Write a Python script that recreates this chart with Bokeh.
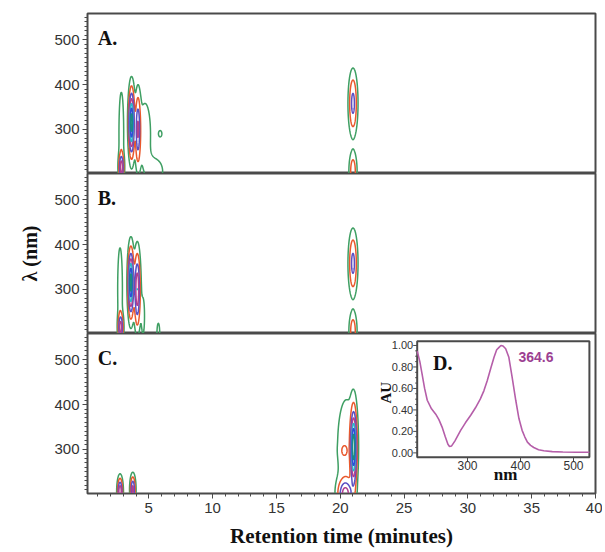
import numpy as np
from bokeh.plotting import figure
from bokeh.models import Range1d, SingleIntervalTicker, Label
from bokeh.layouts import column
from bokeh.embed import file_html
from bokeh.resources import INLINE
from bokeh.core.properties import value

# ---------------- data ----------------
RT_RANGE = (0.2, 40.0)          # retention time (minutes)
WL_RANGE = (201, 559)           # wavelength (nm)
PANEL_NAMES = ["A.", "B.", "C."]

# contour peaks of each panel: retention time, wavelength, widths, height
A_T = [2.85, 2.85, 3.65, 4.15, 4.7, 5.6, 5.9, 21.0, 21.0]
A_L = [290, 215, 315, 300, 290, 205, 290, 358, 205]
A_ST = [0.14, 0.12, 0.13, 0.12, 0.45, 0.5, 0.15, 0.2, 0.18]
A_SL = [70, 18, 42, 45, 70, 25, 8, 40, 26]
A_H = [0.12, 0.5, 1.0, 0.45, 0.08, 0.08, 0.07, 0.35, 0.25]

B_T = [2.75, 2.8, 3.6, 4.1, 4.55, 5.75, 21.0, 21.0]
B_L = [300, 215, 315, 300, 240, 200, 358, 205]
B_ST = [0.14, 0.12, 0.13, 0.14, 0.12, 0.1, 0.2, 0.18]
B_SL = [70, 18, 42, 48, 40, 22, 40, 26]
B_H = [0.12, 0.5, 1.0, 0.6, 0.08, 0.09, 0.35, 0.25]

C_T = [2.75, 3.75, 21.05, 20.5, 20.3, 20.4]
C_L = [205, 210, 305, 305, 297, 200]
C_ST = [0.12, 0.12, 0.14, 0.6, 0.2, 0.35]
C_SL = [18, 18, 48, 90, 10, 20]
C_H = [0.6, 0.5, 1.0, 0.1, 0.1, 0.5]

LEVELS = [0.05, 0.15, 0.3, 0.45, 0.6, 0.75, 0.9]
LEVEL_COLORS = ["#3f9f63", "#e9592d", "#5b4fc4", "#b1418f", "#2fb3cc", "#2e4fd6", "#1d8a84"]

# inset D: UV spectrum
SPEC_NM = [205, 210, 214, 219, 224, 232, 240, 246, 252, 258, 263, 266, 270, 276, 287, 296,
           306, 315, 324, 331, 337, 344, 350, 355, 359, 363, 367, 372, 378, 384, 391, 397,
           403, 408, 413, 419, 425, 434, 444, 460, 480, 505, 530]
SPEC_AU = [0.95, 0.85, 0.74, 0.60, 0.49, 0.41, 0.36, 0.31, 0.24, 0.15, 0.08, 0.06, 0.065, 0.11,
           0.21, 0.28, 0.35, 0.42, 0.50, 0.58, 0.67, 0.79, 0.89, 0.96, 0.98, 1.0, 0.995, 0.97,
           0.89, 0.71, 0.49, 0.32, 0.21, 0.15, 0.10, 0.07, 0.05, 0.03, 0.02, 0.012, 0.008,
           0.006, 0.006]
PEAK_LABEL = "364.6"
IN_NM = (205, 530)
IN_AU = (-0.04, 1.04)
IN_Y_TICKS = [0.0, 0.2, 0.4, 0.6, 0.8, 1.0]
IN_Y_LABELS = ["0.00", "0.20", "0.40", "0.60", "0.80", "1.00"]
IN_Y_MINOR = [0.05, 0.1, 0.15, 0.25, 0.3, 0.35, 0.45, 0.5, 0.55, 0.65, 0.7, 0.75, 0.85, 0.9, 0.95]
IN_X_TICKS = [300, 400, 500]
IN_X_LABELS = ["300", "400", "500"]

# ---------------- styling ----------------
FW, FH = 508, 160
AX = "#4a4a4a"
SANS = "Liberation Sans"
SERIF = "Liberation Serif"

rt = np.linspace(0.0, 40.4, 2021)
wl = np.arange(194, 566, 2.0)
RT, WL = np.meshgrid(rt, wl)


def surface(T, L, ST, SL, H):
    z = np.zeros_like(RT)
    for t0, l0, st, sl, h in zip(T, L, ST, SL, H):
        z += h * np.exp(-0.5 * (((RT - t0) / st) ** 2 + ((WL - l0) / sl) ** 2))
    return z


def make_panel(name, peaks, top=0, bottom=0, bottom_axis=False, ylabel=""):
    p = figure(frame_width=FW, frame_height=FH, x_range=Range1d(*RT_RANGE),
               y_range=Range1d(*WL_RANGE), output_backend="svg", toolbar_location=None,
               x_axis_location="below" if bottom_axis else None,
               min_border_left=87, min_border_right=7, min_border_top=top,
               min_border_bottom=bottom, background_fill_color="white",
               border_fill_color="white")
    p.grid.visible = False
    p.outline_line_color = AX
    p.outline_line_width = 2
    ya = p.yaxis[0]
    ya.ticker = SingleIntervalTicker(interval=100, num_minor_ticks=10)
    ya.major_label_text_font = SANS
    ya.major_label_text_font_size = "15px"
    ya.major_label_text_color = "#333333"
    ya.axis_line_color = AX
    ya.major_tick_line_color = AX
    ya.minor_tick_line_color = AX
    ya.major_tick_out = 5
    ya.major_tick_in = 0
    ya.minor_tick_out = 3
    ya.minor_tick_in = 0
    ya.major_label_standoff = 3
    if ylabel:
        ya.axis_label = ylabel
        ya.axis_label_text_font = SERIF
        ya.axis_label_text_font_style = "bold"
        ya.axis_label_text_font_size = "20px"
        ya.axis_label_text_color = "#111111"
        ya.axis_label_standoff = 10
    if bottom_axis:
        xa = p.xaxis[0]
        xa.ticker = SingleIntervalTicker(interval=5, num_minor_ticks=5)
        xa.major_label_text_font = SANS
        xa.major_label_text_font_size = "15px"
        xa.major_label_text_color = "#333333"
        xa.axis_line_color = AX
        xa.major_tick_line_color = AX
        xa.minor_tick_line_color = AX
        xa.major_tick_out = 5
        xa.major_tick_in = 0
        xa.minor_tick_out = 3
        xa.minor_tick_in = 0
        xa.major_label_standoff = 4
        xa.axis_label = "Retention time (minutes)"
        xa.axis_label_text_font = SERIF
        xa.axis_label_text_font_style = "bold"
        xa.axis_label_text_font_size = "21px"
        xa.axis_label_text_color = "#111111"
        xa.axis_label_standoff = 8
    z = surface(*peaks)
    p.contour(rt, wl, z, levels=LEVELS, line_color=LEVEL_COLORS, line_width=1.5)
    p.add_layout(Label(x=1.0, y=505, text=name, text_font=SERIF, text_font_style="bold",
                       text_font_size="20px", text_baseline="middle", text_color="#111111"))
    return p


pa = make_panel(PANEL_NAMES[0], (A_T, A_L, A_ST, A_SL, A_H), top=13)
pb = make_panel(PANEL_NAMES[1], (B_T, B_L, B_ST, B_SL, B_H), ylabel="\u03bb (nm)")
pc = make_panel(PANEL_NAMES[2], (C_T, C_L, C_ST, C_SL, C_H), bottom=58, bottom_axis=True)

# ---------------- inset D inside panel C ----------------
IN_BOX = dict(left=0.649, right=0.988, bottom=0.227, top=0.952)   # fraction of frame
span_nm = (IN_NM[1] - IN_NM[0]) / (IN_BOX["right"] - IN_BOX["left"])
nm0 = IN_NM[0] - IN_BOX["left"] * span_nm
span_au = (IN_AU[1] - IN_AU[0]) / (IN_BOX["top"] - IN_BOX["bottom"])
au0 = IN_AU[0] - IN_BOX["bottom"] * span_au
pc.extra_x_ranges = {"nm": Range1d(nm0, nm0 + span_nm)}
pc.extra_y_ranges = {"au": Range1d(au0, au0 + span_au)}
kw = dict(x_range_name="nm", y_range_name="au")

pc.quad(left=[IN_NM[0]], right=[IN_NM[1]], bottom=[IN_AU[0]], top=[IN_AU[1]],
        fill_color="white", line_color=AX, line_width=2, **kw)
pc.line(SPEC_NM, SPEC_AU, line_color="#b55ea9", line_width=1.6, **kw)
pc.ray(x=[IN_NM[0]] * len(IN_Y_TICKS), y=IN_Y_TICKS, length=4, angle=np.pi,
       length_units="screen", line_color=AX, line_width=1, **kw)
pc.ray(x=[IN_NM[0]] * len(IN_Y_MINOR), y=IN_Y_MINOR, length=2, angle=np.pi,
       length_units="screen", line_color=AX, line_width=1, **kw)
pc.ray(x=IN_X_TICKS, y=[IN_AU[0]] * len(IN_X_TICKS), length=4, angle=-np.pi / 2,
       length_units="screen", line_color=AX, line_width=1, **kw)
pc.text(x=[IN_NM[0]] * len(IN_Y_TICKS), y=IN_Y_TICKS, text=IN_Y_LABELS, x_offset=-4,
        text_align="right", text_baseline="middle", text_font=value(SANS),
        text_font_size="11px", text_color="#333333", **kw)
pc.text(x=IN_X_TICKS, y=[IN_AU[0]] * len(IN_X_TICKS), text=IN_X_LABELS, y_offset=4,
        text_align="center", text_baseline="top", text_font=value(SANS),
        text_font_size="12px", text_color="#333333", **kw)
pc.add_layout(Label(x=372, y=IN_AU[0], y_offset=-27, text="nm", text_font=SERIF,
                    text_font_style="bold", text_font_size="17px", text_align="center",
                    text_color="#111111", **kw))
pc.add_layout(Label(x=147, y=0.56, text="AU", angle=np.pi / 2, text_font=SERIF,
                    text_font_style="bold", text_font_size="15px", text_align="center",
                    text_baseline="middle", text_color="#111111", **kw))
pc.add_layout(Label(x=235, y=0.84, text="D.", text_font=SERIF, text_font_style="bold",
                    text_font_size="20px", text_baseline="middle", text_color="#111111", **kw))
pc.add_layout(Label(x=396, y=0.89, text=PEAK_LABEL, text_font=SANS, text_font_style="bold",
                    text_font_size="14px", text_baseline="middle", text_color="#9c3f92", **kw))

layout = column(pa, pb, pc, spacing=0)
open("out.html", "w").write(file_html(layout, INLINE))
